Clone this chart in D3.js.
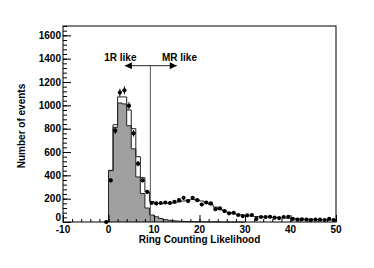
<!DOCTYPE html>
<meta charset="utf-8">
<script src="https://d3js.org/d3.v7.min.js"></script>
<style>
  body { margin: 0; background: #fff; }
  text { font-family: "Liberation Sans", Arial, sans-serif; font-weight: bold; fill: #000; }
</style>
<div id="chart"></div>
<script>

// bins of width 1 starting at 0
const binStart = 0;
const mcTotal = [443, 834, 1072, 1072, 960, 800, 560, 380, 260, 175,
                 160, 158, 158, 160, 165, 172, 180, 188, 192, 190,
                 180, 165, 148, 128, 110, 95, 82, 72, 64, 58,
                 54, 50, 47, 45, 43, 41, 39, 37, 35, 33,
                 30, 28, 26, 24, 23, 22, 21, 20, 19, 18];
const mc1R = [440, 811, 1020, 1012, 825, 627, 386, 244, 120, 60,
              45, 30, 20, 14, 10, 7, 5, 4, 3, 2,
              2, 1, 1, 1, 0, 0, 0, 0, 0, 0];
// data points at bin centres from -0.5
const dataStart = -0.5;
const dataCounts = [0, 357, 783, 1109, 1129, 996, 760, 500, 357, 258, 164,
                    159, 163, 167, 163, 173, 187, 207, 179, 207, 187,
                    150, 167, 159, 110, 116, 94, 74, 79, 60, 51,
                    57, 60, 26, 43, 43, 45, 37, 34, 43, 45,
                    26, 20, 23, 20, 17, 20, 20, 17, 26, 17];

const xTicks = [-10, 0, 10, 20, 30, 40, 50];
const yTicks = [0, 200, 400, 600, 800, 1000, 1200, 1400, 1600];

const W = 374, H = 268;
const margin = {top: 26, right: 38, bottom: 46, left: 63};

const svg = d3.select("#chart").append("svg")
    .attr("width", W).attr("height", H);

const x = d3.scaleLinear().domain([-10, 50]).range([margin.left, W - margin.right]);
const y = d3.scaleLinear().domain([0, 1680]).range([H - margin.bottom, margin.top]);

// histograms as step areas
function steps(vals) {
  const pts = vals.map((v, i) => [binStart + i, v]);
  pts.push([binStart + vals.length, vals[vals.length - 1]]);
  return [[binStart, 0]].concat(pts).concat([[binStart + vals.length, 0]]);
}
const stepArea = d3.area()
    .x(d => x(d[0])).y0(y(0)).y1(d => y(d[1]))
    .curve(d3.curveStepAfter);
const stepLine = d3.line()
    .x(d => x(d[0])).y(d => y(d[1]))
    .curve(d3.curveStepAfter);

svg.append("path")
    .attr("d", stepArea(steps(mcTotal)))
    .attr("fill", "#fff");
svg.append("path")
    .attr("d", stepArea(steps(mc1R)))
    .attr("fill", "#a0a0a0");
svg.append("path")
    .attr("d", stepLine(steps(mc1R)))
    .attr("fill", "none").attr("stroke", "#222").attr("stroke-width", 1);
svg.append("path")
    .attr("d", stepLine(steps(mcTotal)))
    .attr("fill", "none").attr("stroke", "#222").attr("stroke-width", 1);

// cut line and arrows
const cut = 9.2;
svg.append("line")
    .attr("x1", x(cut)).attr("x2", x(cut))
    .attr("y1", y(1340)).attr("y2", y(0))
    .attr("stroke", "#555").attr("stroke-width", 1);
svg.append("line")
    .attr("x1", x(3.6)).attr("x2", x(15))
    .attr("y1", y(1340)).attr("y2", y(1340))
    .attr("stroke", "#222").attr("stroke-width", 1);
const ah = 3.5;
svg.append("path")
    .attr("d", `M${x(3.6)},${y(1340)} l${ah * 2},${-ah} l0,${ah * 2} Z`)
    .attr("fill", "#000");
svg.append("path")
    .attr("d", `M${x(15)},${y(1340)} l${-ah * 2},${-ah} l0,${ah * 2} Z`)
    .attr("fill", "#000");
svg.append("text")
    .attr("x", x(2.6)).attr("y", y(1340) - 5)
    .attr("text-anchor", "middle").attr("font-size", 10)
    .text("1R like");
svg.append("text")
    .attr("x", x(15.6)).attr("y", y(1340) - 5)
    .attr("text-anchor", "middle").attr("font-size", 10)
    .text("MR like");

// data points with errors
const pts = dataCounts.map((v, i) => ({c: dataStart + i, v: v}));
svg.selectAll("line.err")
  .data(pts)
  .join("line")
    .attr("class", "err")
    .attr("x1", d => x(d.c)).attr("x2", d => x(d.c))
    .attr("y1", d => y(d.v + Math.sqrt(d.v)))
    .attr("y2", d => y(Math.max(0, d.v - Math.sqrt(d.v))))
    .attr("stroke", "#000").attr("stroke-width", 1);
svg.selectAll("circle.pt")
  .data(pts)
  .join("circle")
    .attr("class", "pt")
    .attr("cx", d => x(d.c)).attr("cy", d => y(d.v))
    .attr("r", 2.1)
    .attr("fill", "#000");

// frame
svg.append("rect")
    .attr("x", margin.left).attr("y", margin.top)
    .attr("width", W - margin.left - margin.right)
    .attr("height", H - margin.top - margin.bottom)
    .attr("fill", "none").attr("stroke", "#000").attr("stroke-width", 1);

// axes (ticks inside)
svg.append("g")
    .attr("transform", `translate(${margin.left},0)`)
    .call(d3.axisRight(y).tickValues(d3.range(0, 1681, 40)).tickSize(4).tickFormat(""))
    .call(g => g.select(".domain").remove());
svg.append("g")
    .attr("transform", `translate(${margin.left},0)`)
    .call(d3.axisRight(y).tickValues(yTicks).tickSize(8).tickFormat(""))
    .call(g => g.select(".domain").remove());
yTicks.forEach(t => {
  svg.append("text")
      .attr("x", margin.left - 2).attr("y", y(t) + (t === 0 ? -1 : 3.5))
      .attr("text-anchor", "end").attr("font-size", 10)
      .text(t);
});

const xb = H - margin.bottom;
svg.append("g")
    .attr("transform", `translate(0,${xb})`)
    .call(d3.axisTop(x).tickValues(d3.range(-10, 51, 2)).tickSize(3).tickFormat(""))
    .call(g => g.select(".domain").remove());
svg.append("g")
    .attr("transform", `translate(0,${xb})`)
    .call(d3.axisTop(x).tickValues(xTicks).tickSize(7).tickFormat(""))
    .call(g => g.select(".domain").remove());
xTicks.forEach(t => {
  svg.append("text")
      .attr("x", x(t)).attr("y", xb + 11)
      .attr("text-anchor", "middle").attr("font-size", 10)
      .text(t);
});

svg.append("text")
    .attr("x", (margin.left + W - margin.right) / 2).attr("y", xb + 21)
    .attr("text-anchor", "middle").attr("font-size", 10)
    .text("Ring Counting Likelihood");
svg.append("text")
    .attr("transform", `translate(25,${(margin.top + xb) / 2 + 2}) rotate(-90)`)
    .attr("text-anchor", "middle").attr("font-size", 10)
    .text("Number of events");
</script>
